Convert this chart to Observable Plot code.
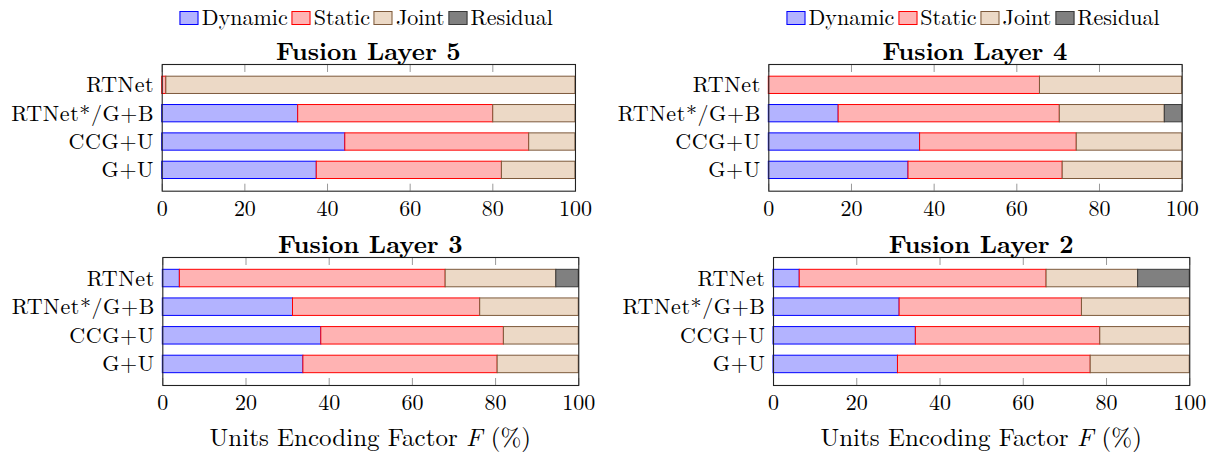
<!DOCTYPE html>
<html><head><meta charset="utf-8">
<script src="https://cdn.jsdelivr.net/npm/d3@7"></script>
<script src="https://cdn.jsdelivr.net/npm/@observablehq/plot@0.6"></script>
<style>
html,body{margin:0;padding:0;background:#fff;}
#root{position:relative;width:1217px;height:454px;overflow:hidden;font-family:"Latin Modern Roman","Liberation Serif",serif;color:#000;}
.legend{position:absolute;font-family:"Latin Modern Roman","Liberation Serif",serif;font-size:22px;line-height:1;white-space:nowrap;transform:translateX(-50%);}
.sw{display:inline-block;width:17px;height:12px;border:1px solid;margin-right:3px;vertical-align:baseline;}
.txt{margin-right:4px;}
.title{position:absolute;font-family:"Latin Modern Roman","Liberation Serif",serif;font-weight:bold;font-size:25px;line-height:1;transform:translateX(-50%);white-space:nowrap;}
.xlabel{position:absolute;font-family:"Latin Modern Roman","Liberation Serif",serif;font-size:25px;line-height:1;transform:translateX(-50%);white-space:nowrap;}
.pl text{font-family:"Latin Modern Roman","Liberation Serif",serif;}
.pl g[aria-label="y-axis tick label"]{letter-spacing:0.6px;}
</style>
</head><body><div id="root"></div>
<script>
// ---- data ----
const methods = ["RTNet", "RTNet*/G+B", "CCG+U", "G+U"];
const seriesNames = ["Dynamic", "Static", "Joint", "Residual"];
const seriesFill = ["#b3b3ff", "#ffb3b3", "#ecd9c6", "#808080"];
const seriesStroke = ["#0000ff", "#ff0000", "#7d5a3c", "#3a3a3a"];
const xTicks = [0, 20, 40, 60, 80, 100];
const panelTitles = ["Fusion Layer 5", "Fusion Layer 4", "Fusion Layer 3", "Fusion Layer 2"];
const axisTitle = "Units Encoding Factor <i>F</i> (%)";
// values per series (rows: Dynamic, Static, Joint, Residual; columns follow methods)
const layer5 = [[0, 32.9, 44.3, 37.4], [1.0, 47.2, 44.5, 44.8], [99.0, 19.9, 11.2, 17.8], [0, 0, 0, 0]];
const layer4 = [[0, 16.9, 36.6, 33.8], [65.6, 53.5, 37.9, 37.3], [34.4, 25.4, 25.5, 28.9], [0, 4.2, 0, 0]];
const layer3 = [[4.1, 31.3, 38.1, 33.8], [63.9, 45.0, 43.9, 46.7], [26.6, 23.7, 18.0, 19.5], [5.4, 0, 0, 0]];
const layer2 = [[6.3, 30.3, 34.2, 29.9], [59.3, 43.8, 44.3, 46.3], [22.0, 25.9, 21.5, 23.8], [12.4, 0, 0, 0]];

// ---- layout (frame boxes of each panel) ----
const boxes = [
  {svgLeft: 0,   left: 161.7, right: 575,    top: 64.3,  bottom: 191,   title: 58.3},
  {svgLeft: 608, left: 768.3, right: 1181.7, top: 64.3,  bottom: 191,   title: 58.3},
  {svgLeft: 0,   left: 162.3, right: 578.3,  top: 257.3, bottom: 385.3, title: 251.7},
  {svgLeft: 608, left: 773,   right: 1189.3, top: 257.3, bottom: 385.3, title: 251.7}
];
const layers = [layer5, layer4, layer3, layer2];
const root = document.getElementById("root");

function rowsFor(layer) {
  const rows = [];
  methods.forEach((m, i) => {
    seriesNames.forEach((s, j) => {
      rows.push({method: m, series: s, value: layer[j][i], fill: seriesFill[j], stroke: seriesStroke[j]});
    });
  });
  return rows;
}

function addDiv(cls, html, x, top) {
  const d = document.createElement("div");
  d.className = cls;
  d.innerHTML = html;
  d.style.left = x + "px";
  d.style.top = top + "px";
  root.appendChild(d);
  return d;
}

layers.forEach((layer, k) => {
  const b = boxes[k];
  const mr = 25, mt = 4, mb = 34;
  const ml = b.left - b.svgLeft;
  const width = b.right + mr - b.svgLeft;
  const height = mt + (b.bottom - b.top) + mb;
  const plot = Plot.plot({
    width, height,
    marginLeft: ml, marginRight: mr, marginTop: mt, marginBottom: mb,
    className: "pl",
    style: {fontFamily: '"Latin Modern Roman", "Liberation Serif", serif', fontSize: "22px", background: "transparent", overflow: "visible", color: "#000"},
    x: {domain: [0, 100], label: null},
    y: {domain: methods, paddingInner: 0.39, paddingOuter: 0.43, round: false, label: null},
    color: {type: "identity"},
    marks: [
      Plot.barX(rowsFor(layer), {x: "value", y: "method", fill: "fill", stroke: "stroke", strokeWidth: 1}),
      Plot.axisX({anchor: "top", ticks: xTicks, tickSize: -7, tickFormat: () => "", stroke: "#999", label: null}),
      Plot.axisX({anchor: "bottom", ticks: xTicks, tickSize: -7, tickFormat: () => "", stroke: "#999", label: null}),
      Plot.frame({stroke: "#222", strokeWidth: 1.1}),
      Plot.axisX({anchor: "bottom", ticks: xTicks, tickSize: 0, tickPadding: 9, label: null}),
      Plot.axisY({tickSize: 0, tickPadding: 8, label: null})
    ]
  });
  plot.style.position = "absolute";
  plot.style.left = b.svgLeft + "px";
  plot.style.top = (b.top - mt) + "px";
  root.appendChild(plot);

  const cx = (b.left + b.right) / 2;
  addDiv("title", panelTitles[k], cx, b.title - 21.5);
  if (k < 2) {
    let html = "";
    seriesNames.forEach((s, j) => {
      html += `<span class="sw" style="background:${seriesFill[j]};border-color:${seriesStroke[j]}"></span><span class="txt">${s}</span>`;
    });
    addDiv("legend", html, cx, 4.5);
  } else {
    addDiv("xlabel", axisTitle, cx, 423);
  }
});
</script>
</body></html>
